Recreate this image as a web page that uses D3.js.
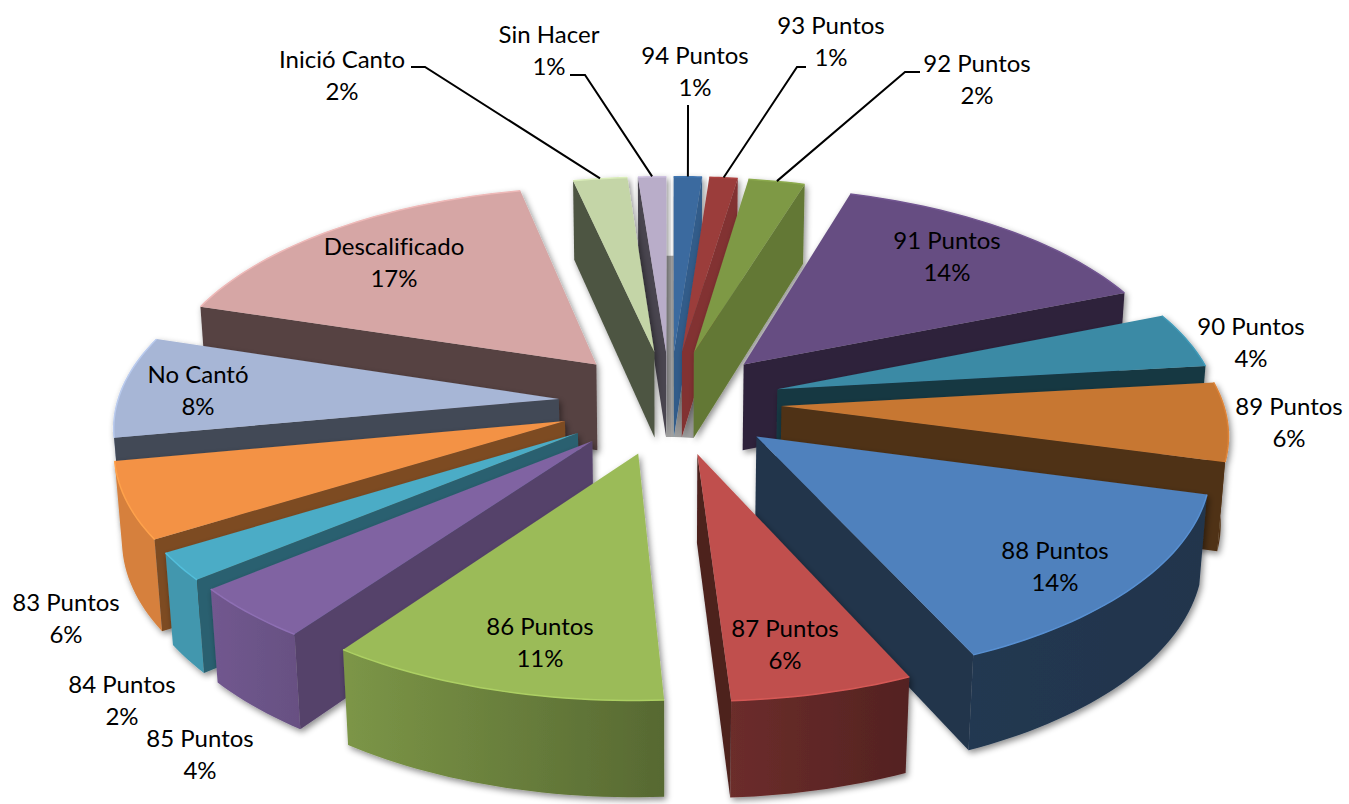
<!DOCTYPE html>
<html>
<head>
<meta charset="utf-8">
<script src="https://cdnjs.cloudflare.com/ajax/libs/d3/7.8.5/d3.min.js"></script>
<style>
  html, body { margin: 0; padding: 0; background: #fff; overflow: hidden; }
  text { font-family: Lato, "Open Sans", sans-serif; font-size: 24px; fill: #000; font-variant-ligatures: none; }
</style>
</head>
<body>
<script>
// clockwise from twelve o'clock
var categories = ["94 Puntos", "93 Puntos", "92 Puntos", "91 Puntos", "90 Puntos", "89 Puntos",
  "88 Puntos", "87 Puntos", "86 Puntos", "85 Puntos", "84 Puntos", "83 Puntos",
  "No Cantó", "Descalificado", "Inició Canto", "Sin Hacer"];
var values = [1.2, 1.2, 2.4, 14.4, 4.4, 6.2, 14.3, 5.9, 11.0, 4.2, 2.2, 6.0, 8.0, 17.0, 2.3, 1.2];

var palette = ["#3a6a9f", "#9b3c3a", "#7e9945", "#664d82", "#3a8aa5", "#c77733",
  "#4f81bd", "#c0504d", "#9bbb59", "#8064a2", "#4bacc6", "#f39244",
  "#a7b6d6", "#d6a6a5", "#c4d5a7", "#b9adc9"];

// hand placed labels: centre x, centre y of first line
var labelPos = [[695, 54], [831, 24], [977, 62], [947, 239], [1251, 325], [1289, 405],
  [1055, 549], [785, 627], [540, 625], [200, 737], [122, 683], [66, 601],
  [198, 373], [394, 245], [342, 58], [549, 33]];
// leader lines start + elbow, only the outside labels at the top have one
var leaders = { 0: [[688, 105], [688, 120]], 1: [[806, 67], [797, 67]], 2: [[920, 72], [905, 72]],
  14: [[411, 67], [425, 67]], 15: [[570, 75], [585, 75]] };

var width = 1349, height = 804;
var R = 455, explode = 115, depth = 103;
var cx = 670, cy = 402, tilt = 27.8 * Math.PI / 180, camera = 3500, zoom = 0.97;

var svg = d3.select("body").append("svg").attr("width", width).attr("height", height);
var defs = svg.append("defs");

var shadow = defs.append("filter").attr("id", "shadow")
  .attr("x", "-10%").attr("y", "-10%").attr("width", "125%").attr("height", "125%");
shadow.append("feDropShadow").attr("dx", 2).attr("dy", 3).attr("stdDeviation", 3)
  .attr("flood-color", "#000").attr("flood-opacity", 0.45);

// world -> screen, y comes to the viewer, z goes up
function project(x, y, z) {
  var w = camera - (y * Math.cos(tilt) + z * Math.sin(tilt));
  var s = zoom * camera / w;
  return [cx + x * s, cy + (y * Math.sin(tilt) - z * Math.cos(tilt)) * s];
}

var line = d3.line();

var pie = d3.pie().sort(null).value(d => d)
  .startAngle(0).endAngle(2 * Math.PI);
var arcs = pie(values);

function darken(color, k) {
  var c = d3.rgb(color);
  return d3.rgb(c.r * k, c.g * k, c.b * k).formatHex();
}

// radial walls: light from the east
function wallShade(normal) {
  var n = normal * 180 / Math.PI;
  n = ((n % 360) + 360) % 360;
  return Math.max(0.4, 0.87 - Math.max(0, n - 94) * 0.0066);
}

// outer wall: brighter towards the west
function rimShade(angle) {
  var a = angle * 180 / Math.PI;
  return Math.max(0.4, Math.min(0.88, 0.55 + (a - 175) * 0.0062));
}

var slices = arcs.map(function(d, i) {
  var mid = (d.startAngle + d.endAngle) / 2;
  var ox = explode * Math.sin(mid), oy = -explode * Math.cos(mid);
  var n = Math.max(6, Math.ceil((d.endAngle - d.startAngle) * 40));
  var pts = d3.range(n + 1).map(function(k) {
    var a = d.startAngle + (d.endAngle - d.startAngle) * k / n;
    return [ox + R * Math.sin(a), oy - R * Math.cos(a)];
  });
  return { i: i, d: d, mid: mid, ox: ox, oy: oy, pts: pts };
});

// grey floor showing through the gaps behind the thin slices
[[15, 0], [0, 1], [1, 2]].forEach(function(pair) {
  var a = slices[pair[0]], b = slices[pair[1]];
  var gap = [project(a.ox, a.oy, -depth), project.apply(null, a.pts[a.pts.length - 1].concat(-depth)),
    project.apply(null, b.pts[0].concat(-depth)), project(b.ox, b.oy, -depth)];
  svg.append("path").attr("d", line(gap) + "Z").attr("fill", "#a3a3a3");
});

var order = slices.slice().sort((a, b) => -Math.cos(a.mid) - -Math.cos(b.mid));

order.forEach(function(s) {
  var color = palette[s.i];
  var g = svg.append("g").attr("filter", "url(#shadow)");

  var topArc = s.pts.map(p => project(p[0], p[1], 0));
  var botArc = s.pts.map(p => project(p[0], p[1], -depth));
  var apexTop = project(s.ox, s.oy, 0);
  var apexBot = project(s.ox, s.oy, -depth);

  var gradId = "rim" + s.i;
  var grad = defs.append("linearGradient").attr("id", gradId);
  grad.append("stop").attr("offset", "0%").attr("stop-color", darken(color, rimShade(s.d.endAngle)));
  grad.append("stop").attr("offset", "100%").attr("stop-color", darken(color, rimShade(s.d.startAngle)));

  var rim = topArc.concat(botArc.slice().reverse());
  if (Math.cos(s.mid) < 0.2) g.append("path").attr("d", line(rim) + "Z").attr("fill", "url(#" + gradId + ")");

  // only the wall turned to the camera is drawn
  var wallA = [apexTop, topArc[0], botArc[0], apexBot];
  var wallB = [apexTop, topArc[topArc.length - 1], botArc[botArc.length - 1], apexBot];
  if (d3.polygonArea(wallA) > 0) g.append("path").attr("d", line(wallA) + "Z").attr("fill", darken(color, wallShade(s.d.startAngle - Math.PI / 2)));
  if (d3.polygonArea(wallB) < 0) g.append("path").attr("d", line(wallB) + "Z").attr("fill", darken(color, wallShade(s.d.endAngle + Math.PI / 2)));

  var top = [apexTop].concat(topArc);
  g.append("path").attr("d", line(top) + "Z").attr("fill", color);
  // bevel along the rim
  g.append("path").attr("d", line(topArc)).attr("fill", "none")
    .attr("stroke", d3.rgb(color).brighter(0.3).formatHex()).attr("stroke-width", 1.5);
});

// leader lines end on the rim of their slice
slices.forEach(function(s) {
  var lead = leaders[s.i];
  if (!lead) return;
  var rr = R + 1;
  var end = project(s.ox + rr * Math.sin(s.mid), s.oy - rr * Math.cos(s.mid), 0);
  svg.append("path").attr("d", line(lead.concat([end]))).attr("fill", "none")
    .attr("stroke", "#000").attr("stroke-width", 2);
});

categories.forEach(function(name, i) {
  var t = svg.append("text").attr("text-anchor", "middle").attr("dominant-baseline", "central");
  t.append("tspan").attr("x", labelPos[i][0]).attr("y", labelPos[i][1]).text(name);
  t.append("tspan").attr("x", labelPos[i][0]).attr("y", labelPos[i][1] + 32)
    .text(Math.round(values[i]) + "%");
});
</script>
</body>
</html>
